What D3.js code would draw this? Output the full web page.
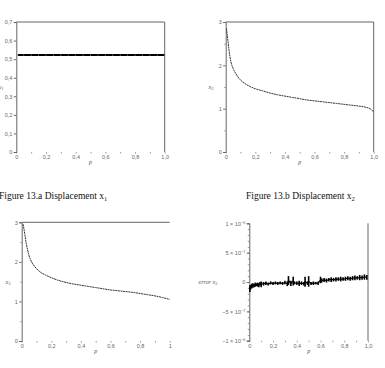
<!DOCTYPE html>
<html>
<head>
<meta charset="utf-8">
<script src="https://cdn.jsdelivr.net/npm/d3@7"></script>
<style>
  body { margin: 0; background: #fff; }
  svg { display: block; }
  .tick text { fill: #666; font-family: "Liberation Sans", sans-serif; }
  .caption { font-family: "Liberation Serif", "Times New Roman", serif; fill: #111; }
</style>
</head>
<body>
<div id="chart"></div>
<script>
// x1 : constant displacement over p
const pX1 = [0.01, 0.05, 0.1, 0.15, 0.2, 0.25, 0.3, 0.35, 0.4, 0.45, 0.5, 0.55, 0.6, 0.65, 0.7, 0.75, 0.8, 0.85, 0.9, 0.95, 1.0];
const x1Values = [0.522, 0.522, 0.522, 0.522, 0.522, 0.522, 0.522, 0.522, 0.522, 0.522, 0.522, 0.522, 0.522, 0.522, 0.522, 0.522, 0.522, 0.522, 0.522, 0.522, 0.522];

// x2
const pX2 = [0.005, 0.01, 0.02, 0.03, 0.04, 0.05, 0.07, 0.1, 0.13, 0.16, 0.2, 0.25, 0.3, 0.35, 0.4, 0.45, 0.5, 0.55, 0.6, 0.65, 0.7, 0.75, 0.8, 0.85, 0.9, 0.95, 0.98, 1.0];
const x2Values = [2.85, 2.72, 2.42, 2.17, 2.02, 1.93, 1.8, 1.66, 1.58, 1.52, 1.46, 1.41, 1.36, 1.32, 1.29, 1.26, 1.23, 1.2, 1.18, 1.16, 1.14, 1.12, 1.1, 1.08, 1.06, 1.03, 0.99, 0.92];

// x3
const pX3 = [0.01, 0.02, 0.03, 0.04, 0.05, 0.06, 0.08, 0.1, 0.13, 0.16, 0.2, 0.25, 0.3, 0.35, 0.4, 0.45, 0.5, 0.55, 0.6, 0.65, 0.7, 0.75, 0.8, 0.85, 0.9, 0.95, 1.0];
const x3Values = [2.95, 2.72, 2.48, 2.3, 2.15, 2.05, 1.92, 1.83, 1.73, 1.67, 1.6, 1.53, 1.48, 1.44, 1.41, 1.38, 1.35, 1.32, 1.29, 1.27, 1.25, 1.23, 1.2, 1.17, 1.14, 1.1, 1.05];

// error (units of 1e-7): spread low / high at each p
const pErr = [0.005, 0.01, 0.02, 0.03, 0.04, 0.05, 0.06, 0.07, 0.08, 0.09, 0.1, 0.12, 0.14, 0.16, 0.18, 0.2, 0.22, 0.24, 0.26, 0.28, 0.3, 0.32, 0.33, 0.35, 0.37, 0.38, 0.4, 0.42, 0.44, 0.46, 0.47, 0.49, 0.5, 0.52, 0.54, 0.56, 0.58, 0.6, 0.61, 0.63, 0.65, 0.67, 0.69, 0.71, 0.73, 0.75, 0.77, 0.79, 0.81, 0.83, 0.85, 0.87, 0.89, 0.91, 0.93, 0.95, 0.97, 0.99];
const errLow = [-1.7, -1.3, -1.1, -1.0, -0.9, -0.8, -0.7, -0.8, -0.9, -0.6, -0.9, -0.6, -0.5, -0.6, -0.4, -0.5, -0.4, -0.5, -0.4, -0.5, -0.4, -0.7, -0.5, -0.7, -0.6, -0.4, -0.5, -0.7, -0.5, -0.6, -0.8, -0.5, -0.8, -0.5, -0.5, -0.4, -0.5, -0.2, -0.1, 0.0, -0.1, 0.1, 0.0, 0.1, 0.1, 0.2, 0.1, 0.2, 0.2, 0.3, 0.2, 0.3, 0.3, 0.4, 0.3, 0.4, 0.4, 0.4];
const errHigh = [-0.6, -0.5, -0.3, -0.2, -0.3, -0.1, -0.2, -0.1, -0.2, 0.0, 0.1, 0.0, 0.1, -0.1, 0.1, 0.0, 0.1, 0.0, 0.1, 0.0, 0.2, 0.1, 1.0, 0.2, 0.9, 0.1, 0.1, 0.2, 0.1, 0.0, 0.9, 0.1, 1.0, 0.0, 0.1, 0.0, 0.1, 0.9, 0.6, 0.7, 0.6, 0.7, 0.8, 0.7, 0.8, 0.8, 0.9, 0.8, 0.9, 1.0, 0.9, 1.0, 1.1, 1.0, 1.2, 1.1, 1.3, 1.2];

const width = 385, height = 368;
const AXIS = "#666";

const svg = d3.select("#chart").append("svg")
  .attr("width", width)
  .attr("height", height);

function comma(v) {
  return v === 0 ? "0" : d3.format(".1f")(v).replace(".", ",");
}

function drawPanel(cfg) {
  const x = d3.scaleLinear().domain([0, 1]).range([cfg.left, cfg.right]);
  const y = d3.scaleLinear().domain(cfg.yDomain).range([cfg.bottom, cfg.top]);
  const g = svg.append("g");

  // x ticks: small marks every 0.1, labels on majors
  const xAxis = d3.axisBottom(x)
    .tickValues(d3.range(0, 11).map(i => i / 10))
    .tickSize(1.5)
    .tickPadding(1.5)
    .tickFormat((d, i) => (i % 2 === 0 ? cfg.xFormat(d) : ""));
  const gx = g.append("g").attr("transform", `translate(0,${cfg.bottom})`).call(xAxis);
  gx.select(".domain").remove();
  gx.selectAll(".tick line").attr("stroke", "#999");
  gx.selectAll(".tick text").attr("font-size", 5.5);

  // y minor ticks
  if (cfg.yMinor) {
    const gm = g.append("g").attr("transform", `translate(${cfg.left},0)`)
      .call(d3.axisLeft(y).tickValues(cfg.yMinor).tickSize(1.5).tickFormat(""));
    gm.select(".domain").remove();
    gm.selectAll(".tick line").attr("stroke", "#999");
  }

  const yAxis = d3.axisLeft(y)
    .tickValues(cfg.yTicks)
    .tickSize(2.5)
    .tickPadding(1.5)
    .tickFormat(cfg.yFormat || (d => d));
  const gy = g.append("g").attr("transform", `translate(${cfg.left},0)`).call(yAxis);
  gy.select(".domain").attr("stroke", AXIS);
  gy.selectAll(".tick line").attr("stroke", AXIS);
  gy.selectAll(".tick text").attr("font-size", 5.5);
  if (cfg.yLabelRich) cfg.yLabelRich(gy);

  // frame
  if (cfg.topLine) {
    g.append("line").attr("x1", cfg.left).attr("x2", cfg.right)
      .attr("y1", cfg.top).attr("y2", cfg.top).attr("stroke", AXIS);
  }
  if (cfg.rightLine) {
    g.append("line").attr("x1", cfg.right).attr("x2", cfg.right)
      .attr("y1", cfg.top).attr("y2", cfg.bottom).attr("stroke", AXIS);
  }

  // axis titles
  g.append("text")
    .attr("x", x(0.5)).attr("y", cfg.bottom + 12)
    .attr("text-anchor", "middle")
    .attr("font-family", "Liberation Serif, serif")
    .attr("font-style", "italic")
    .attr("font-size", 6)
    .attr("fill", "#555")
    .text("p");

  const yl = g.append("text")
    .attr("x", cfg.yTitleX).attr("y", (cfg.top + cfg.bottom) / 2 + 2)
    .attr("text-anchor", "middle")
    .attr("font-family", "Liberation Serif, serif")
    .attr("font-style", "italic")
    .attr("font-size", 6)
    .attr("fill", "#555");
  yl.append("tspan").text(cfg.yTitle);
  yl.append("tspan").attr("font-style", "normal").attr("font-size", 4.5).attr("dy", 1).text(cfg.yTitleSub);

  return { g, x, y };
}

function drawCurve(p, ps, vs) {
  const pts = ps.map((d, i) => [d, vs[i]]);
  const line = d3.line().x(d => p.x(d[0])).y(d => p.y(d[1])).curve(d3.curveMonotoneX);
  p.g.append("path").datum(pts)
    .attr("d", line)
    .attr("fill", "none")
    .attr("stroke", "#333")
    .attr("stroke-width", 1)
    .attr("stroke-dasharray", "2,0.6");
}

// Panel a : x1
const pa = drawPanel({
  left: 16.3, right: 164.7, top: 22, bottom: 152,
  yDomain: [0, 0.7],
  yTicks: d3.range(0, 8).map(i => i / 10),
  yFormat: comma,
  xFormat: comma,
  topLine: true, rightLine: true,
  yTitle: "x", yTitleSub: "1", yTitleX: 1
});
pa.g.append("path")
  .datum(pX1.map((d, i) => [d, x1Values[i]]))
  .attr("d", d3.line().x(d => pa.x(d[0])).y(d => pa.y(d[1])))
  .attr("stroke", "#000").attr("stroke-width", 2).attr("fill", "none");
pa.g.selectAll("circle.m").data(pX1).enter().append("circle")
  .attr("cx", d => pa.x(d)).attr("cy", (d, i) => pa.y(x1Values[i]))
  .attr("r", 0.5).attr("fill", "#bbb");

// Panel b : x2
const pb = drawPanel({
  left: 225.7, right: 373.7, top: 22, bottom: 152,
  yDomain: [0, 3],
  yTicks: [0, 1, 2, 3],
  yMinor: [0.5, 1.5, 2.5],
  xFormat: comma,
  topLine: true, rightLine: true,
  yTitle: "x", yTitleSub: "2", yTitleX: 211
});
drawCurve(pb, pX2, x2Values);

// Panel c : x3
const pc = drawPanel({
  left: 21.7, right: 169.7, top: 222.3, bottom: 341,
  yDomain: [0, 3],
  yTicks: [0, 1, 2, 3],
  yMinor: [0.5, 1.5, 2.5],
  xFormat: d => (d === 1 ? "1" : comma(d)),
  topLine: true, rightLine: false,
  yTitle: "x", yTitleSub: "3", yTitleX: 8
});
drawCurve(pc, pX3, x3Values);

// Panel d : error
const expLabel = {
  "1": ["1 × 10", "−6"], "0.5": ["5 × 10", "−7"], "0": ["0", ""],
  "-0.5": ["−5 × 10", "−7"], "-1": ["−1 × 10", "−6"]
};
const pd = drawPanel({
  left: 249.3, right: 368, top: 223.3, bottom: 340.7,
  yDomain: [-1, 1],
  yTicks: [-1, -0.5, 0, 0.5, 1],
  yMinor: d3.range(-10, 11).map(i => i / 10),
  yFormat: d => "",
  xFormat: comma,
  topLine: false, rightLine: true,
  yTitle: "error x", yTitleSub: "2", yTitleX: 208,
  yLabelRich: gy => {
    gy.selectAll(".tick text").each(function (d) {
      const t = d3.select(this);
      const parts = expLabel[String(d)];
      t.append("tspan").text(parts[0]);
      if (parts[1]) t.append("tspan").attr("font-size", 3.8).attr("dy", -2).text(parts[1]);
    });
  }
});
const ey = v => pd.y(v / 10);
pd.g.selectAll("line.err").data(pErr).enter().append("line")
  .attr("x1", d => pd.x(d)).attr("x2", d => pd.x(d))
  .attr("y1", (d, i) => ey(errLow[i])).attr("y2", (d, i) => ey(errHigh[i]))
  .attr("stroke", "#000").attr("stroke-width", 1.6);
pd.g.append("path")
  .datum(pErr.map((d, i) => [d, (errLow[i] + errHigh[i]) / 2]))
  .attr("d", d3.line().x(d => pd.x(d[0])).y(d => ey(d[1])))
  .attr("fill", "none").attr("stroke", "#000").attr("stroke-width", 1.2);

// captions
function caption(xPos, letter, sub) {
  const t = svg.append("text").attr("class", "caption")
    .attr("x", xPos).attr("y", 199).attr("font-size", 9.5);
  t.append("tspan").text(`Figure 13.${letter} Displacement x`);
  t.append("tspan").attr("font-size", 6.5).attr("dy", 2).text(sub);
}
caption(-1, "a", "1");
caption(246, "b", "2");
</script>
</body>
</html>
